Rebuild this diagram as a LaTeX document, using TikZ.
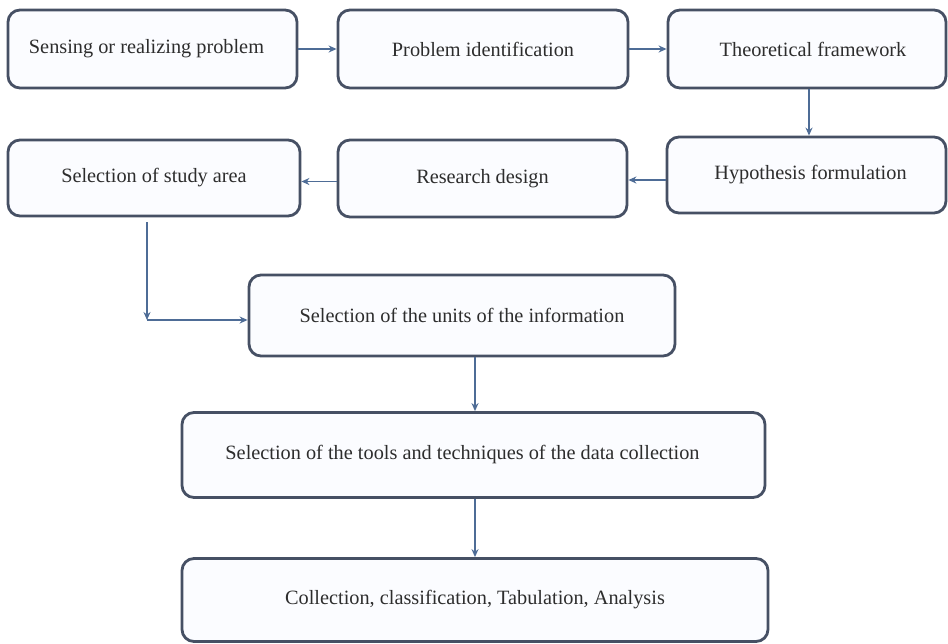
\documentclass[tikz,border=0pt]{standalone}
\usepackage{fontspec}
\setmainfont{Liberation Serif}
\usetikzlibrary{arrows.meta,calc}
\definecolor{boxline}{RGB}{70,80,100}
\definecolor{boxfill}{RGB}{251,252,255}
\definecolor{arrowcol}{RGB}{78,108,150}
\definecolor{txt}{RGB}{45,45,45}
\tikzset{
  stepbox/.style={draw=boxline, fill=boxfill, line width=2.8pt, rounded corners=12pt,
    inner sep=0pt, text=txt, font=\fontsize{20.3}{24}\selectfont},
  arr/.style={draw=arrowcol, line width=1.8pt, -{Stealth[length=8pt,width=7pt]}},
}
\begin{document}
\begin{tikzpicture}[x=1pt,y=-1pt]
\useasboundingbox (0,0) rectangle (948,643);
\node[stepbox, minimum width=289pt, minimum height=78pt] (b1) at (152.5,49) {\hspace*{-12pt}Sensing or realizing problem};
\node[stepbox, minimum width=290pt, minimum height=78pt] (b2) at (483,49) {Problem identification};
\node[stepbox, minimum width=278pt, minimum height=78pt] (b3) at (807,49) {\hspace*{12pt}Theoretical framework};
\node[stepbox, minimum width=279pt, minimum height=76pt] (b4) at (806.5,175) {\hspace*{8pt}Hypothesis formulation};
\node[stepbox, minimum width=289pt, minimum height=77pt] (b5) at (482.5,178.5) {Research design};
\node[stepbox, minimum width=292pt, minimum height=76pt] (b6) at (154,178) {Selection of study area};
\node[stepbox, minimum width=426pt, minimum height=81pt] (b7) at (462,315.5) {Selection of the units of the information};
\node[stepbox, minimum width=583pt, minimum height=85pt] (b8) at (473.5,455) {\hspace*{-22pt}Selection of the tools and techniques of the data collection};
\node[stepbox, minimum width=586pt, minimum height=83pt] (b9) at (475,600) {Collection, classification, Tabulation, Analysis};

\draw[arr] (b1.east) -- (b2.west);
\draw[arr] (b2.east) -- (b2.east -| b3.west);
\draw[arr] ([xshift=2pt]b3.south) -- ([xshift=2pt]b3.south |- b4.north);
\draw[arr] ([yshift=-5pt]b4.west) -- ([yshift=-5pt]b4.west -| b5.east);
\draw[arr] ([yshift=-3pt]b5.west) -- ([yshift=-3pt]b5.west -| b6.east);
\coordinate (s6) at ([xshift=-7pt,yshift=-5pt]b6.south);
\coordinate (t7) at ([yshift=-4.5pt]b7.west);
\coordinate (corner) at (s6 |- t7);
\draw[arr] (s6) -- (corner);
\draw[arr] (corner) -- (t7);
\draw[arr] ([xshift=13pt]b7.south) -- ([xshift=13pt]b7.south |- b8.north);
\draw[arr] ([xshift=1.5pt]b8.south) -- ([xshift=1.5pt]b8.south |- b9.north);
\end{tikzpicture}
\end{document}
